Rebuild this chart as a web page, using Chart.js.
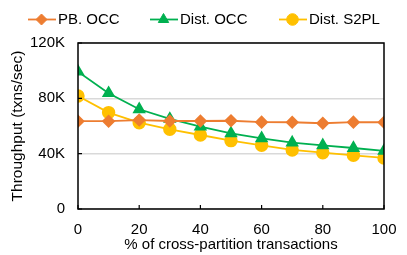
<!DOCTYPE html>
<html>
<head>
<meta charset="utf-8">
<script src="https://cdn.jsdelivr.net/npm/chart.js@4.4.0/dist/chart.umd.min.js"></script>
<style>
  html, body { margin: 0; padding: 0; background: #fff; }
  #wrap { width: 407px; height: 255px; position: relative; }
</style>
</head>
<body>
<div id="wrap"><canvas id="chart" width="407" height="255"></canvas></div>
<script>
// x values: % of cross-partition transactions
const crossPct = [0, 10, 20, 30, 40, 50, 60, 70, 80, 90, 100];

// throughput, txns/sec
const pbOcc = [63500, 63500, 64300, 63600, 63600, 63800, 62800, 62700, 62000, 62800, 62700];
const distOcc = [99300, 83700, 72100, 65100, 59500, 54700, 51100, 48000, 46000, 44100, 42000];
const distS2pl = [81700, 69700, 62400, 57600, 53500, 49400, 46000, 42700, 40700, 38800, 36900];

const yTicks = [0, 40000, 80000, 120000];
const xTicks = [0, 20, 40, 60, 80, 100];

const FONT = '"Liberation Sans", Arial, sans-serif';

function pts(values) {
  return crossPct.map((x, i) => ({ x: x, y: values[i] }));
}

// draws the legend as line + marker, like the original
const lineLegend = {
  id: 'lineLegend',
  afterDraw(chart) {
    const ctx = chart.ctx;
    const items = [
      { ds: 0, x0: 28, text: 'PB. OCC' },
      { ds: 1, x0: 150, text: 'Dist. OCC' },
      { ds: 2, x0: 279, text: 'Dist. S2PL' }
    ];
    const y = 19.5;
    ctx.save();
    items.forEach(it => {
      const d = chart.data.datasets[it.ds];
      ctx.strokeStyle = d.borderColor;
      ctx.fillStyle = d.borderColor;
      ctx.lineWidth = d.borderWidth;
      ctx.beginPath();
      ctx.moveTo(it.x0, y);
      ctx.lineTo(it.x0 + 28, y);
      ctx.stroke();
      ctx.lineWidth = 1;
      Chart.helpers.drawPoint(ctx, {
        pointStyle: d.pointStyle,
        radius: d.pointRadius,
        borderWidth: 1
      }, it.x0 + 13.5, y);
      ctx.fillStyle = '#000';
      ctx.font = '15px ' + FONT;
      ctx.textBaseline = 'middle';
      ctx.fillText(it.text, it.x0 + 30, y);
    });
    ctx.restore();
  }
};

// box around the plot area, with short inward tick marks
const frame = {
  id: 'frame',
  afterDatasetsDraw(chart) {
    const a = chart.chartArea;
    const ctx = chart.ctx;
    const xs = chart.scales.x, ys = chart.scales.y;
    ctx.save();
    ctx.strokeStyle = '#000';
    ctx.lineWidth = 1.5;
    ctx.strokeRect(a.left, a.top, a.right - a.left, a.bottom - a.top);
    ctx.lineWidth = 1.2;
    ctx.beginPath();
    xTicks.forEach(v => {
      const px = xs.getPixelForValue(v);
      ctx.moveTo(px, a.bottom);
      ctx.lineTo(px, a.bottom - 4);
    });
    yTicks.forEach(v => {
      const py = ys.getPixelForValue(v);
      ctx.moveTo(a.left, py);
      ctx.lineTo(a.left + 4, py);
    });
    ctx.stroke();
    ctx.restore();
  }
};

function ds(label, values, color, style, r) {
  return {
    label: label,
    data: pts(values),
    borderColor: color,
    backgroundColor: color,
    pointBackgroundColor: color,
    pointBorderColor: color,
    borderWidth: 1.8,
    pointStyle: style,
    pointRadius: r,
    pointHoverRadius: r,
    tension: 0
  };
}

new Chart(document.getElementById('chart'), {
  type: 'line',
  data: {
    datasets: [
      ds('PB. OCC', pbOcc, '#ED7D31', 'rectRot', 5.5),
      ds('Dist. OCC', distOcc, '#00B050', 'triangle', 6),
      ds('Dist. S2PL', distS2pl, '#FFC000', 'circle', 5.8)
    ]
  },
  options: {
    responsive: false,
    animation: false,
    layout: { padding: { top: 43, right: 23, bottom: 0, left: 8 } },
    plugins: {
      legend: { display: false },
      tooltip: { enabled: false }
    },
    scales: {
      x: {
        type: 'linear',
        min: 0,
        max: 100,
        afterBuildTicks: s => { s.ticks = xTicks.map(v => ({ value: v })); },
        afterFit: s => { s.height = 46; s.paddingLeft = 0; s.paddingRight = 0; },
        grid: { display: false, drawTicks: false },
        border: { display: false },
        ticks: { color: '#000', font: { family: FONT, size: 15 }, padding: 12, maxRotation: 0 },
        title: {
          display: true,
          text: '% of cross-partition transactions',
          color: '#000',
          font: { family: FONT, size: 15 },
          padding: { top: 0, bottom: 1 }
        }
      },
      y: {
        min: 0,
        max: 120000,
        afterBuildTicks: s => { s.ticks = yTicks.map(v => ({ value: v })); },
        afterFit: s => { s.width = 70; },
        grid: { color: '#d9d9d9', lineWidth: 1.5, drawTicks: false },
        border: { display: false },
        ticks: {
          color: '#000',
          font: { family: FONT, size: 15 },
          padding: 13,
          callback: v => v === 0 ? '0' : (v / 1000) + 'K'
        },
        title: {
          display: true,
          text: 'Throughput (txns/sec)',
          color: '#000',
          font: { family: FONT, size: 15.5 },
          padding: { top: 0, bottom: 0 }
        }
      }
    }
  },
  plugins: [frame, lineLegend]
});
</script>
</body>
</html>
